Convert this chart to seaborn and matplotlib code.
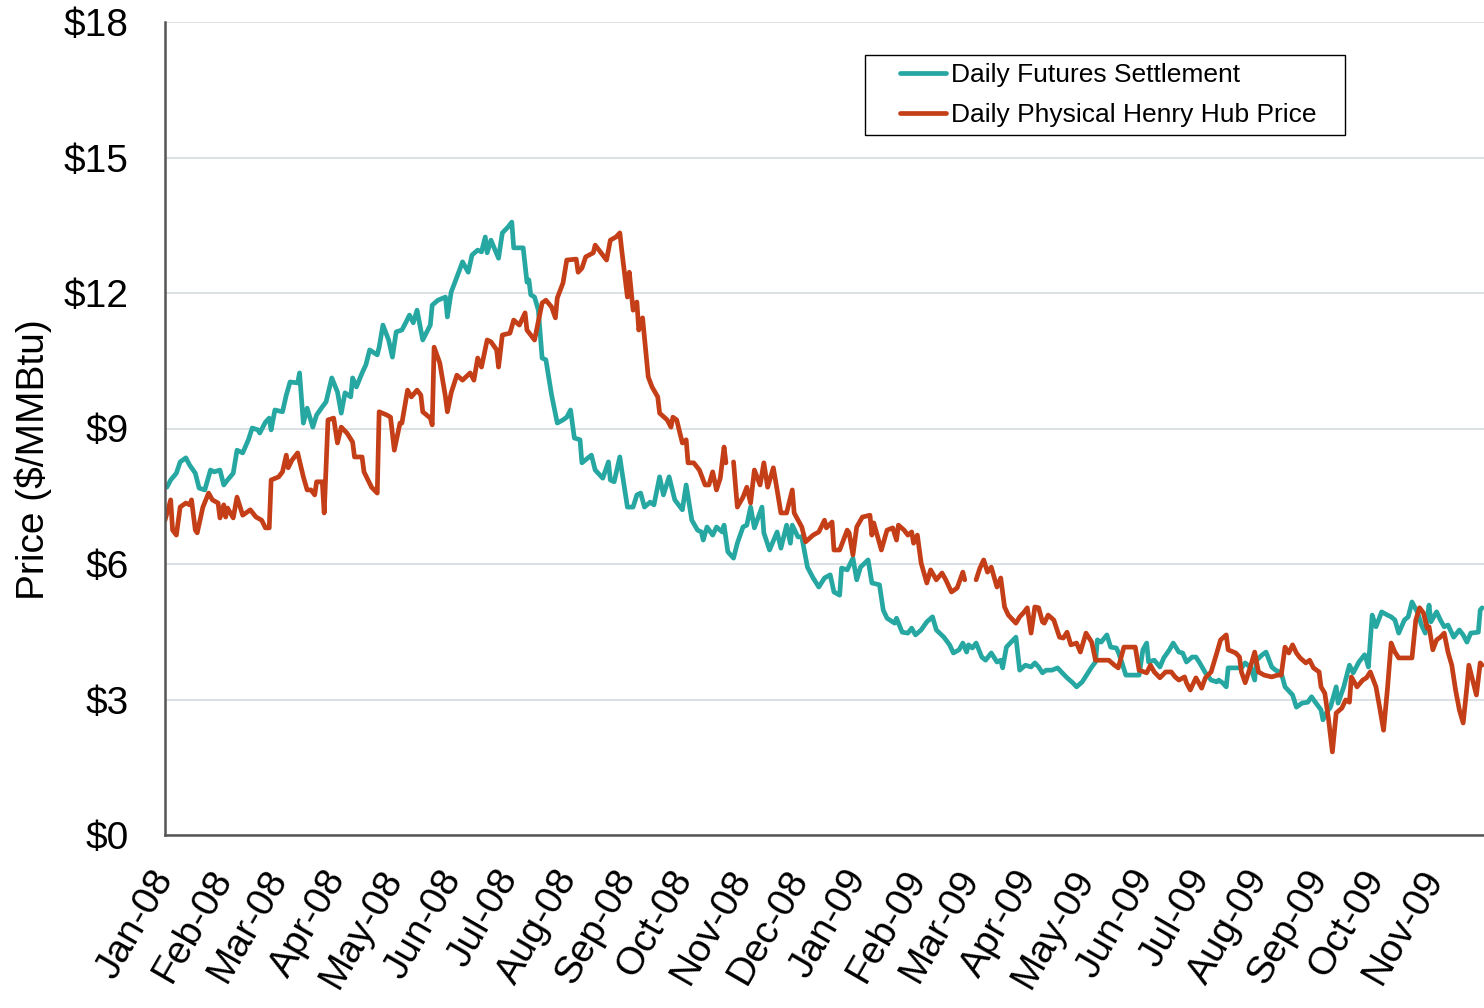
import matplotlib
matplotlib.use("agg")
import matplotlib.pyplot as plt
import matplotlib.dates as mdates
from matplotlib.lines import Line2D
from matplotlib.patches import Rectangle
import numpy as np
import pandas as pd
import seaborn as sns

start_date = pd.Timestamp("2008-01-01")
last_day = 696

futures_label = "Daily Futures Settlement"
physical_label = "Daily Physical Henry Hub Price"

# days since 2008-01-01
futures_day = [
    1, 3, 6, 8, 11, 13, 16, 18, 21, 24,
    26, 29, 31, 33, 36, 38, 41, 44, 46, 49,
    50, 53, 55, 56, 58, 62, 64, 66, 70, 71,
    73, 75, 78, 80, 83, 85, 88, 91, 93, 95,
    98, 99, 101, 104, 106, 108, 112, 113, 115, 118,
    120, 122, 125, 127, 129, 131, 133, 136, 140, 141,
    144, 148, 149, 151, 154, 157, 160, 162, 165, 167,
    169, 170, 172, 176, 178, 181, 183, 184, 189, 191,
    192, 193, 195, 197, 199, 201, 204, 207, 210, 212,
    214, 216, 219, 220, 225, 227, 231, 234, 235, 237,
    240, 241, 244, 247, 249, 251, 253, 256, 258, 261,
    263, 266, 269, 273, 275, 278, 281, 283, 284, 286,
    289, 291, 294, 295, 297, 300, 302, 305, 307, 309,
    311, 315, 316, 319, 323, 325, 328, 330, 331, 334,
    336, 339, 342, 345, 348, 351, 353, 356, 357, 360,
    363, 365, 367, 371, 373, 377, 379, 381, 385, 386,
    389, 392, 394, 396, 399, 402, 405, 407, 411, 414,
    416, 419, 421, 423, 424, 426, 428, 431, 433, 436,
    439, 441, 442, 444, 446, 449, 451, 454, 457, 459,
    461, 463, 465, 468, 471, 473, 476, 479, 481, 484,
    487, 489, 491, 492, 494, 497, 499, 502, 503, 505,
    507, 511, 514, 516, 518, 519, 522, 525, 527, 530,
    532, 535, 537, 539, 542, 544, 546, 549, 552, 555,
    556, 558, 560, 561, 565, 568, 570, 573, 575, 576,
    579, 581, 584, 586, 589, 591, 595, 597, 600, 603,
    605, 607, 610, 611, 613, 615, 618, 619, 622, 625,
    627, 630, 633, 634, 635, 637, 639, 642, 645, 647,
    649, 651, 654, 656, 658, 661, 663, 665, 667, 668,
    671, 673, 675, 677, 680, 683, 685, 687, 689, 693,
    694, 695,
]
futures_price = [
    7.70, 7.86, 8.01, 8.26, 8.35, 8.19, 8.01, 7.68, 7.64, 8.08,
    8.04, 8.08, 7.75, 7.86, 8.01, 8.52, 8.46, 8.75, 9.01, 8.97,
    8.90, 9.14, 9.23, 8.97, 9.41, 9.37, 9.74, 10.03, 10.01, 10.23,
    9.12, 9.45, 9.03, 9.30, 9.48, 9.59, 10.12, 9.81, 9.34, 9.79,
    9.70, 10.12, 9.92, 10.23, 10.41, 10.74, 10.63, 10.80, 11.29, 10.96,
    10.58, 11.14, 11.18, 11.34, 11.51, 11.34, 11.62, 10.96, 11.29, 11.73,
    11.84, 11.91, 11.47, 12.02, 12.35, 12.69, 12.46, 12.84, 12.95, 12.91,
    13.24, 12.89, 13.17, 12.77, 13.33, 13.46, 13.57, 13.00, 13.00, 12.24,
    12.29, 11.96, 11.91, 11.62, 10.56, 10.52, 9.74, 9.12, 9.19, 9.25,
    9.41, 8.79, 8.75, 8.24, 8.41, 8.08, 7.90, 8.26, 7.86, 7.82,
    8.37, 8.08, 7.26, 7.26, 7.53, 7.57, 7.26, 7.37, 7.31, 7.93,
    7.53, 7.93, 7.42, 7.20, 7.75, 6.97, 6.75, 6.71, 6.53, 6.82,
    6.64, 6.82, 6.71, 6.86, 6.27, 6.13, 6.46, 6.82, 6.86, 7.26,
    6.80, 7.26, 6.69, 6.31, 6.71, 6.35, 6.86, 6.46, 6.86, 6.60,
    6.60, 5.93, 5.69, 5.49, 5.69, 5.76, 5.38, 5.31, 5.91, 5.87,
    6.13, 5.65, 5.93, 6.09, 5.58, 5.54, 4.98, 4.80, 4.69, 4.80,
    4.49, 4.47, 4.58, 4.43, 4.54, 4.72, 4.83, 4.54, 4.38, 4.21,
    4.03, 4.10, 4.25, 4.05, 4.21, 4.14, 4.25, 3.94, 3.87, 4.03,
    3.83, 3.87, 3.70, 4.16, 4.25, 4.38, 3.65, 3.76, 3.72, 3.81,
    3.72, 3.59, 3.65, 3.65, 3.70, 3.61, 3.48, 3.37, 3.28, 3.39,
    3.59, 3.72, 3.83, 4.32, 4.27, 4.43, 4.16, 4.14, 4.05, 3.81,
    3.54, 3.54, 3.54, 4.10, 4.25, 3.83, 3.87, 3.72, 3.92, 4.10,
    4.25, 4.05, 4.03, 3.83, 3.94, 3.94, 3.81, 3.59, 3.43, 3.39,
    3.43, 3.37, 3.28, 3.70, 3.70, 3.70, 3.81, 3.70, 3.43, 3.87,
    3.99, 4.05, 3.72, 3.65, 3.59, 3.28, 3.10, 2.83, 2.92, 2.94,
    3.06, 2.94, 2.77, 2.55, 2.72, 2.83, 3.28, 2.92, 3.28, 3.76,
    3.59, 3.83, 3.99, 3.87, 3.72, 4.87, 4.61, 4.94, 4.87, 4.83,
    4.76, 4.47, 4.76, 4.83, 5.16, 4.92, 4.65, 4.47, 5.09, 4.72,
    4.94, 4.76, 4.61, 4.65, 4.38, 4.54, 4.43, 4.27, 4.47, 4.49,
    4.98, 5.03,
]

# nan marks the two holes in the physical series
physical_day = [
    0, 3, 4, 6, 8, 11, 13, 14, 16, 17,
    20, 23, 25, 28, 29, 31, 32, 33, 36, 38,
    41, 45, 48, 51, 53, 55, 56, 60, 62, 64,
    65, 67, 70, 73, 75, 77, 79, 80, 83, 84,
    86, 89, 91, 93, 96, 99, 100, 104, 105, 109,
    112, 113, 117, 119, 121, 124, 125, 128, 130, 133,
    135, 136, 140, 141, 142, 145, 148, 149, 151, 154,
    157, 161, 163, 165, 167, 170, 172, 175, 176, 178,
    182, 184, 187, 190, 191, 195, 199, 201, 204, 206,
    207, 210, 212, 217, 218, 220, 222, 226, 227, 229,
    233, 235, 238, 240, 241, 244, 245, 247, 249, 250,
    252, 254, 255, 257, 260, 261, 265, 267, 268, 270,
    273, 275, 276, 279, 282, 285, 287, 289, 291, 293,
    295, 296, 298, 300, 302, 305, 307, 309, 311, 314,
    316, 318, 321, 323, 325, 328, 331, 332, 336, 338,
    342, 345, 348, 349, 352, 353, 356, 360, 361, 363,
    365, 368, 372, 373, 374, 378, 381, 384, 386, 387,
    390, 392, 394, 395, 397, 399, 402, 404, 407, 410,
    412, 415, 418, 421, 422, 425, 428, 430, 432, 434,
    436, 439, 441, 443, 445, 449, 451, 453, 455, 457,
    459, 461, 463, 464, 466, 469, 472, 474, 476, 478,
    481, 483, 486, 489, 491, 494, 498, 501, 503, 506,
    509, 512, 514, 518, 520, 522, 525, 528, 531, 533,
    535, 538, 539, 541, 544, 547, 549, 552, 555, 557,
    560, 561, 565, 567, 568, 570, 573, 575, 577, 580,
    584, 587, 589, 591, 593, 595, 597, 599, 602, 604,
    606, 609, 610, 612, 614, 616, 618, 621, 623, 625,
    626, 629, 632, 634, 636, 639, 641, 643, 645, 647,
    649, 651, 654, 658, 660, 662, 664, 666, 667, 669,
    671, 673, 675, 677, 679, 681, 683, 685, 687, 688,
    690, 692, 694, 695,
]
physical_price = [
    6.97, 7.42, 6.75, 6.64, 7.26, 7.35, 7.31, 7.42, 6.75, 6.69,
    7.26, 7.57, 7.42, 7.35, 7.02, 7.31, 7.04, 7.24, 7.02, 7.48,
    7.08, 7.20, 7.04, 6.97, 6.80, 6.80, 7.86, 7.93, 8.04, 8.41,
    8.13, 8.30, 8.46, 7.93, 7.64, 7.64, 7.53, 7.82, 7.82, 7.13,
    9.19, 9.23, 8.68, 9.03, 8.90, 8.70, 8.37, 8.37, 8.04, 7.70,
    7.57, 9.37, 9.30, 9.25, 8.52, 9.12, 9.12, 9.85, 9.70, 9.85,
    9.74, 9.37, 9.23, 9.08, 10.80, 10.45, 9.70, 9.37, 9.79, 10.18,
    10.07, 10.23, 10.07, 10.56, 10.36, 10.96, 10.92, 10.74, 10.36, 11.07,
    11.11, 11.40, 11.29, 11.56, 11.18, 10.96, 11.78, 11.84, 11.69, 11.45,
    11.89, 12.22, 12.73, 12.75, 12.46, 12.55, 12.80, 12.89, 13.06, 12.95,
    12.73, 13.17, 13.24, 13.33, 12.95, 11.91, 12.46, 11.62, 11.80, 11.18,
    11.45, 10.58, 10.14, 9.92, 9.70, 9.34, 9.19, 9.03, 9.25, 9.19,
    8.68, 8.75, 8.24, 8.24, 8.08, 7.75, 7.75, 8.04, 7.64, 7.90,
    8.59, 8.24, np.nan, 8.26, 7.26, 7.48, 7.70, 7.35, 8.08, 7.75,
    8.24, 7.70, 8.13, 7.64, 7.13, 7.13, 7.64, 7.13, 6.82, 6.49,
    6.64, 6.71, 6.97, 6.80, 6.93, 6.31, 6.31, 6.75, 6.69, 6.20,
    6.82, 7.04, 7.08, 6.64, 6.91, 6.31, 6.75, 6.80, 6.53, 6.86,
    6.75, 6.64, 6.71, 6.46, 6.64, 6.02, 5.58, 5.87, 5.65, 5.80,
    5.65, 5.38, 5.47, 5.82, 5.65, np.nan, 5.65, 5.91, 6.09, 5.82,
    5.93, 5.49, 5.69, 5.05, 4.87, 4.69, 4.83, 4.92, 5.03, 4.47,
    5.05, 5.03, 4.72, 4.69, 4.87, 4.76, 4.38, 4.36, 4.49, 4.21,
    4.25, 4.05, 4.47, 4.27, 3.87, 3.87, 3.87, 3.76, 3.70, 4.16,
    4.16, 4.16, 3.65, 3.59, 3.76, 3.61, 3.48, 3.61, 3.61, 3.50,
    3.43, 3.50, 3.37, 3.21, 3.48, 3.25, 3.48, 3.61, 4.03, 4.32,
    4.43, 4.10, 4.03, 3.94, 3.61, 3.37, 3.76, 4.05, 3.61, 3.54,
    3.50, 3.54, 3.54, 4.16, 4.03, 4.21, 4.03, 3.92, 3.81, 3.87,
    3.70, 3.61, 3.28, 3.14, 2.55, 1.84, 2.70, 2.81, 2.99, 2.94,
    3.50, 3.28, 3.43, 3.48, 3.61, 3.28, 2.81, 2.32, 3.21, 4.25,
    4.05, 3.92, 3.92, 3.92, 4.76, 5.03, 4.92, 4.58, 4.61, 4.10,
    4.32, 4.38, 4.47, 4.05, 3.76, 3.21, 2.77, 2.48, 3.28, 3.76,
    3.43, 3.10, 3.81, 3.76,
]

price_ticks = [0, 3, 6, 9, 12, 15, 18]
month_ticks = pd.date_range("2008-01-01", "2009-11-01", freq="MS")

colors = {futures_label: "#26A7A2", physical_label: "#C43E17"}

fut = pd.DataFrame({"day": futures_day, "price": futures_price})
fut["series"] = futures_label
fut["seg"] = 0
phys = pd.DataFrame({"day": physical_day, "price": physical_price})
phys["series"] = physical_label
phys["seg"] = phys["price"].isna().cumsum()
df = pd.concat([fut, phys.dropna()], ignore_index=True)
df["date"] = start_date + pd.to_timedelta(df["day"], unit="D")

sns.set_style("white")
plt.rcParams["font.family"] = ["Liberation Sans", "DejaVu Sans"]
plt.rcParams["text.color"] = "black"
plt.rcParams["axes.labelcolor"] = "black"

fig = plt.figure(figsize=(14.84, 10.08), dpi=100)
ax = fig.add_axes([165 / 1484, 1 - 835 / 1008, 1 - 165 / 1484, 813 / 1008])

sns.lineplot(data=df, x="date", y="price", hue="series", units="seg",
             estimator=None, sort=False, palette=colors, linewidth=3.4,
             legend=False, ax=ax)

ax.set_ylim(0, 18)
ax.set_xlim(start_date, start_date + pd.Timedelta(days=last_day))
ax.set_yticks(price_ticks)
ax.set_yticklabels(["${}".format(v) for v in price_ticks], fontsize=28)
ax.set_xticks(month_ticks)
ax.xaxis.set_major_formatter(mdates.DateFormatter("%b-%y"))
plt.setp(ax.get_xticklabels(), rotation=60, ha="right", va="center",
         rotation_mode="anchor", fontsize=28)
ax.tick_params(axis="y", length=10, width=1.5, color="#555555", pad=16, labelcolor="black")
ax.tick_params(axis="x", length=13, width=1.5, color="#555555", pad=14, labelcolor="black")
ax.grid(axis="y", color="#D9DFE0", linewidth=1.3)
ax.set_axisbelow(True)
for side in ["top", "right"]:
    ax.spines[side].set_visible(False)
for side in ["left", "bottom"]:
    ax.spines[side].set_color("#555555")
    ax.spines[side].set_linewidth(1.8)
ax.set_xlabel("")
ax.set_ylabel("Price ($/MMBtu)", fontsize=28, color="black")
ax.yaxis.set_label_coords((52 - 165) / 1319, 1 - (460 - 22) / 813)

handles = [Line2D([], [], color=colors[k], linewidth=3.4) for k in [futures_label, physical_label]]
ax.legend(handles, [futures_label, physical_label], loc="upper left",
          bbox_to_anchor=((900 - 165) / 1319, 1 - (63 - 22) / 813),
          frameon=False, fontsize=19, handlelength=1.75, handletextpad=0.2,
          borderpad=0, borderaxespad=0, labelspacing=0.6, labelcolor="black")
ax.add_patch(Rectangle(((865 - 165) / 1319, 1 - (135 - 22) / 813), 480 / 1319, 80 / 813,
                       transform=ax.transAxes, fill=False, edgecolor="black",
                       linewidth=1, clip_on=False))

fig.savefig("out.png", dpi=100)
